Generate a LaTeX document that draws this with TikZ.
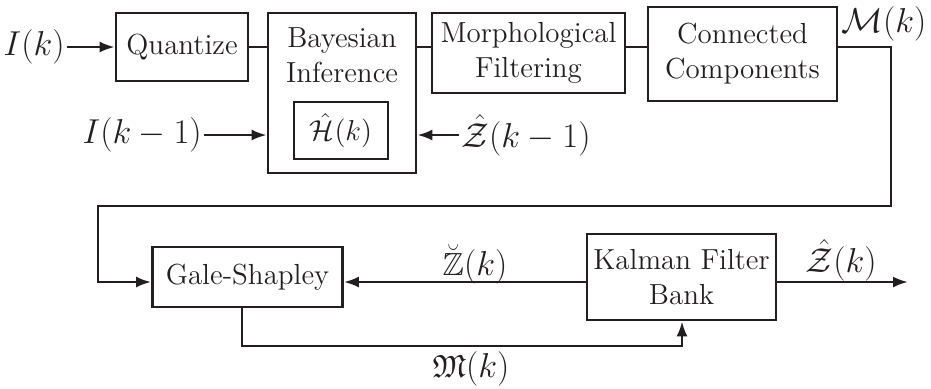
\documentclass[tikz,border=0pt]{standalone}
\usepackage{amsmath,amssymb}
\usetikzlibrary{arrows.meta}
\definecolor{ink}{HTML}{231F20}
\tikzset{
  every node/.style={font=\fontsize{14.5}{17.5}\selectfont, text=ink},
  blk/.style={draw=ink, line width=1.3pt, rectangle, inner sep=0pt, align=center},
  sig/.style={font=\fontsize{16}{19}\selectfont, inner sep=1pt},
  wire/.style={draw=ink, line width=1.3pt},
  arr/.style={wire, -{Latex[length=7.5pt,width=5.5pt]}},
}
\begin{document}
\begin{tikzpicture}[x=0.5pt,y=-0.5pt]
  \useasboundingbox (0,0) rectangle (931,388);

  % upper processing chain
  \node[blk, minimum width=66pt, minimum height=34pt] (Q) at (182,47) {Quantize};
  \node[blk, minimum width=74pt, minimum height=80pt] (B) at (342,93) {};
  \node[align=center, inner sep=0pt] (Btxt) at (342,55) {Bayesian\\Inference};
  \node[blk, minimum width=47pt, minimum height=28.5pt] (H) at (341,130.5) {$\hat{\mathcal{H}}(k)$};
  \node[blk, minimum width=96.5pt, minimum height=40pt] (Mf) at (528.5,53) {Morphological\\Filtering};
  \node[blk, minimum width=94.5pt, minimum height=47pt] (C) at (742.5,54) {Connected\\Components};

  % lower tracking stage
  \node[blk, minimum width=95pt, minimum height=30pt] (G) at (247.5,277) {Gale-Shapley};
  \node[blk, minimum width=94.5pt, minimum height=43pt] (K) at (681.5,277) {Kalman Filter\\Bank};

  % signal labels
  \node[sig, anchor=east] (Ik) at (67,47) {$I(k)$};
  \node[sig, anchor=east] (Ik1) at (204,135) {$I(k-1)$};
  \node[sig, anchor=west] (Zk1) at (459,135) {$\hat{\mathcal{Z}}(k-1)$};
  \node[sig] (Mk) at (884,24) {$\mathcal{M}(k)$};
  \node[sig] (Zb) at (475,264) {$\breve{\mathbb{Z}}(k)$};
  \node[sig] (Zh) at (841,260) {$\hat{\mathcal{Z}}(k)$};
  \node[sig] (Mfr) at (471,369) {$\mathfrak{M}(k)$};

  % routing points
  \coordinate (row) at (0,282);
  \coordinate (tr) at (891,206);
  \coordinate (tl) at (98,206);
  \coordinate (gd) at (242,346);
  \coordinate (ku) at (682,346);
  \coordinate (out) at (908,282);

  % connectors
  \draw[arr] (Ik.east) -- (Q.west);
  \draw[wire] (Q.east) -- (Q.east -| B.west);
  \draw[wire] (Q.east -| B.east) -- (Q.east -| Mf.west);
  \draw[wire] (Q.east -| Mf.east) -- (Q.east -| C.west);
  \draw[arr] (Ik1.east) -- (Ik1.east -| B.west);
  \draw[arr] (Zk1.west) -- (Zk1.west -| B.east);
  \draw[arr] (Q.east -| C.east) -| (tr) -- (tl) |- (G.west |- row);
  \draw[arr] (K.west |- row) -- (G.east |- row);
  \draw[arr] (K.east |- row) -- (out);
  \draw[arr] (G.south -| gd) -- (gd) -- (ku) -- (K.south -| ku);
\end{tikzpicture}
\end{document}
